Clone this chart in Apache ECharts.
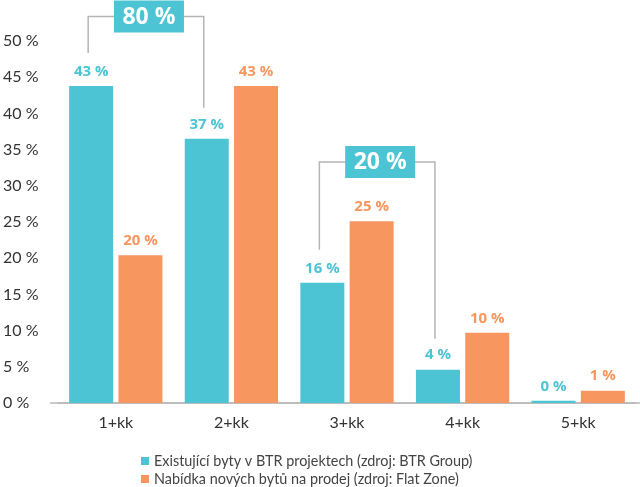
<!DOCTYPE html>
<html>
<head>
<meta charset="utf-8">
<script src="https://cdn.jsdelivr.net/npm/echarts@6/dist/echarts.min.js"></script>
<style>html,body{margin:0;padding:0;background:#fff;}#c{width:640px;height:487px;}</style>
</head>
<body>
<div id="c"></div>
<script>
var categories = ['1+kk', '2+kk', '3+kk', '4+kk', '5+kk'];
var seriesNames = ['Existující byty v BTR projektech (zdroj: BTR Group)', 'Nabídka nových bytů na prodej (zdroj: Flat Zone)'];
var btrValues = [43.8, 36.5, 16.6, 4.6, 0.3];
var flatZoneValues = [20.4, 43.8, 25.1, 9.7, 1.7];
var btrLabels = ['43 %', '37 %', '16 %', '4 %', '0 %'];
var flatZoneLabels = ['20 %', '43 %', '25 %', '10 %', '1 %'];
var yTicks = [0, 50, 5];
var bracketFrom = [0, 2];
var bracketTo = [1, 3];
var bracketLevel = [53.4, 33.3];
var bracketText = ['80 %', '20 %'];

var TEAL = '#4cc4d4';
var ORANGE = '#f7965f';
var FONT = 'Lato, "Open Sans", sans-serif';
var BOLD_FONT = '"Open Sans", Lato, sans-serif';
var BAR_W = 44, GAP = 0.12;

var chart = echarts.init(document.getElementById('c'));
function barLabel(color, texts) {
  return {
    show: true, position: 'top', distance: 7,
    color: color, fontFamily: BOLD_FONT, fontWeight: 'bold', fontSize: 15,
    formatter: function (p) { return texts[p.dataIndex]; }
  };
}
chart.setOption({
  animation: false,
  grid: { left: 56, right: 4, top: 41, bottom: 84 },
  legend: {
    orient: 'vertical', left: 141, top: 454, itemWidth: 8, itemHeight: 8, itemGap: 4,
    icon: 'rect', padding: 0,
    textStyle: { fontFamily: FONT, fontSize: 14.4, lineHeight: 14, color: '#444' },
    data: seriesNames
  },
  xAxis: {
    type: 'category', data: categories,
    axisLine: { lineStyle: { color: '#b8b8b8', width: 1.5 } },
    axisTick: { show: false },
    axisLabel: { color: '#333', fontFamily: FONT, fontSize: 16, margin: 12 }
  },
  yAxis: {
    type: 'value', min: yTicks[0], max: yTicks[1], interval: yTicks[2],
    axisLine: { show: false }, axisTick: { show: false }, splitLine: { show: false },
    axisLabel: { formatter: '{value} %', align: 'left', margin: 55, color: '#333', fontFamily: FONT, fontSize: 16 }
  },
  series: [
    { name: seriesNames[0], type: 'bar', data: btrValues, barWidth: BAR_W, barGap: (GAP * 100) + '%',
      itemStyle: { color: TEAL }, label: barLabel(TEAL, btrLabels) },
    { name: seriesNames[1], type: 'bar', data: flatZoneValues, barWidth: BAR_W,
      itemStyle: { color: ORANGE }, label: barLabel(ORANGE, flatZoneLabels) }
  ]
});

var offset = -(BAR_W + BAR_W * GAP) / 2;
var graphics = [];
var p0 = chart.convertToPixel({ gridIndex: 0 }, [0, 0]);
graphics.push({
  type: 'line', z: 1,
  shape: { x1: 50, y1: p0[1], x2: 640, y2: p0[1] },
  style: { stroke: '#b8b8b8', lineWidth: 1.5 }
});
for (var i = 0; i < bracketFrom.length; i++) {
  var a = bracketFrom[i], b = bracketTo[i];
  var pa = chart.convertToPixel({ gridIndex: 0 }, [a, btrValues[a]]);
  var pb = chart.convertToPixel({ gridIndex: 0 }, [b, btrValues[b]]);
  var pl = chart.convertToPixel({ gridIndex: 0 }, [a, bracketLevel[i]]);
  var xa = pa[0] + offset - 3, xb = pb[0] + offset - 3;
  var yl = pl[1];
  var ya = pa[1] - 33, yb = pb[1] - 31;
  var cx = (xa + xb) / 2 + 3;
  graphics.push({
    type: 'polyline', z: 10,
    shape: { points: [[xa, ya], [xa, yl], [xb, yl], [xb, yb]] },
    style: { stroke: '#b5b5b5', lineWidth: 1.5, fill: null }
  });
  graphics.push({
    type: 'rect', z: 11,
    shape: { x: cx - 35, y: yl - 16, width: 70, height: 32 },
    style: { fill: TEAL }
  });
  graphics.push({
    type: 'text', z: 12,
    x: cx, y: yl + 1,
    style: { text: bracketText[i], fill: '#fff', font: 'bold 23px ' + BOLD_FONT, align: 'center', verticalAlign: 'middle' }
  });
}
chart.setOption({ graphic: graphics });
</script>
</body>
</html>
